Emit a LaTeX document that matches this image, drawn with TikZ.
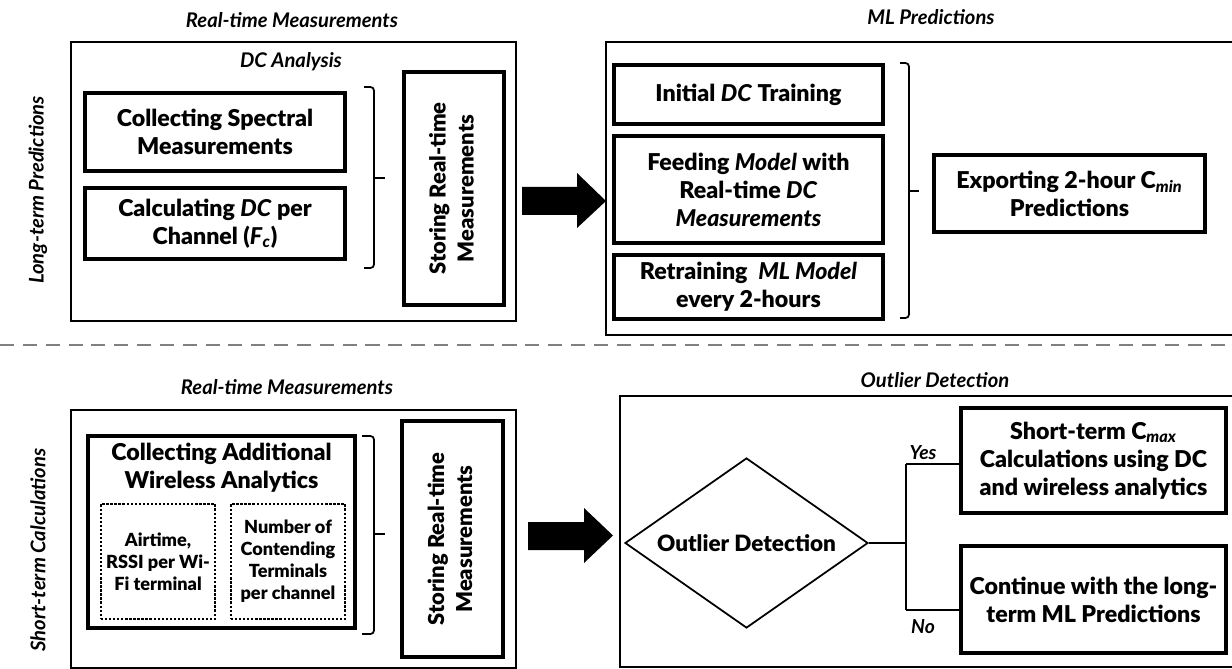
\documentclass[tikz,border=0pt]{standalone}
\usepackage{fontspec}
\setmainfont{Lato}
\newfontfamily\heavyfont{Lato Black}
\usetikzlibrary{shapes.geometric}
\usetikzlibrary{shadows}
\usetikzlibrary{positioning}
\tikzset{
    boxsize/.style 2 args = {minimum width=#1*0.02cm, minimum height=#2*0.02cm},
    outerbox/.style = {rectangle, draw=black, line width=1.1pt, inner sep=0pt, outer sep=0pt},
    stepbox/.style = {rectangle, draw=black, line width=1.8pt, fill=white, align=center, inner sep=0pt,
        font=\heavyfont\fontsize{13.2}{16}\selectfont,
        drop shadow={fill=black, opacity=0.35, shadow xshift=1.3pt, shadow yshift=-1.3pt}},
    storebox/.style = {stepbox, font=\heavyfont\fontsize{12.5}{16}\selectfont},
    subbox/.style = {rectangle, draw=black, line width=1.3pt, densely dotted, fill=white, align=center,
        inner sep=0pt, font=\heavyfont\fontsize{10.3}{12.5}\selectfont},
    decision/.style = {diamond, aspect=1.43, draw=black, line width=1pt, inner sep=0pt, align=center,
        font=\heavyfont\fontsize{12.8}{16}\selectfont},
    grouptitle/.style = {font=\bfseries\itshape\fontsize{11.5}{14}\selectfont},
    sidelabel/.style = {rotate=90, font=\bfseries\itshape\fontsize{11.5}{14}\selectfont},
    branchlabel/.style = {font=\bfseries\itshape\fontsize{11}{12}\selectfont},
    brace/.style = {line width=1pt, rounded corners=2pt},
    branch/.style = {line width=1.2pt},
    bigarrow/.style = {fill=black},
    divider/.style = {draw=gray, line width=1.2pt, dash pattern=on 8pt off 5pt}
}
\begin{document}
\begin{tikzpicture}[x=0.02cm, y=-0.02cm]
\useasboundingbox (0,0) rectangle (1232,669);
%
% long-term part
\node[grouptitle] (ltTitle) at (292,20) {Real-time Measurements};
\node[outerbox, boxsize={445}{279}] (ltFrame) at (293.5,181.5) {};
\node[grouptitle] (dcTitle) at (291,62) {DC Analysis};
\node[stepbox, boxsize={260}{78}] (spec) at (215,132) {Collecting Spectral\\Measurements};
\node[stepbox, boxsize={260}{71}] (calc) at (215,223.5) {Calculating \textit{DC} per\\Channel (\textit{F}\textsubscript{\itshape c})};
\draw[brace] (364,87) -- (374,87) -- (374,268) -- (364,268);
\draw[brace] (374,178) -- (385,178);
\node[storebox, boxsize={100}{233}] (storeA) at (454,188.5)
    {\rotatebox{90}{\begin{tabular}{@{}c@{}}Storing Real-time\\Measurements\end{tabular}}};
\node[sidelabel] (ltLabel) at (38,190) {Long-term Predictions};
\fill[bigarrow] (522,187) -- (577,187) -- (577,173) -- (606,201) -- (577,228) -- (577,215) -- (522,215) -- cycle;
%
\node[grouptitle] (mlTitle) at (931,17) {ML Predictions};
\draw[outerbox] (1236,42) -| (606,335) -- (1236,335);
\node[stepbox, boxsize={269}{59}] (init) at (748.5,94.5) {Initial \textit{DC} Training};
\node[stepbox, boxsize={269}{107}] (feed) at (748.5,189.5) {Feeding \textit{Model} with\\Real-time \textit{DC}\\\textit{Measurements}};
\node[stepbox, boxsize={269}{64}] (retrain) at (748.5,287) {Retraining \ \textit{ML Model}\\every 2-hours};
\draw[brace] (900,63) -- (909,63) -- (909,318) -- (900,318);
\draw[brace] (909,191) -- (919,191);
\node[stepbox, boxsize={271}{77}] (export) at (1069.5,193.5) {Exporting 2-hour C\textsubscript{\itshape min}\\Predictions};
%
\draw[divider] (0,345) -- (1232,345);
%
% short-term part
\node[grouptitle] (stTitle) at (287,387) {Real-time Measurements};
\node[outerbox, boxsize={445}{258}] (stFrame) at (293.5,539) {};
\node[stepbox, boxsize={267}{192}] (collect) at (221.5,532) {};
\node[font=\heavyfont\fontsize{13.2}{16}\selectfont, align=center] (collectText) at (221.5,468) {Collecting Additional\\Wireless Analytics};
\node[subbox, boxsize={114}{115}] (airtime) at (158,561.5) {Airtime,\\RSSI per Wi-\\Fi terminal};
\node[subbox, boxsize={114}{115}] (contend) at (288,561.5) {Number of\\Contending\\Terminals\\per channel};
\draw[brace] (362,436) -- (374,436) -- (374,634) -- (362,634);
\draw[brace] (374,534) -- (385,534);
\node[storebox, boxsize={101}{236}] (storeB) at (452.5,539)
    {\rotatebox{90}{\begin{tabular}{@{}c@{}}Storing Real-time\\Measurements\end{tabular}}};
\node[sidelabel] (stLabel) at (38,550) {Short-term Calculations};
\fill[bigarrow] (528,522) -- (584,522) -- (584,508) -- (613,535.5) -- (584,563) -- (584,550) -- (528,550) -- cycle;
%
\node[grouptitle] (odTitle) at (935,380) {Outlier Detection};
\draw[outerbox] (1236,396) -| (620,667) -- (1236,667);
\node[decision, boxsize={243}{170}] (od) at (746.5,543) {Outlier Detection};
\node[stepbox, boxsize={265}{105}] (yes) at (1093.5,460.5) {Short-term C\textsubscript{\itshape max}\\Calculations using DC\\and wireless analytics};
\node[stepbox, boxsize={265}{107}] (no) at (1093.5,599.5) {Continue with the long-\\term ML Predictions};
\coordinate (split) at (906,543);
\coordinate (splitYes) at (906,464);
\coordinate (splitNo) at (906,610);
\draw[branch] (od.east) -- (split);
\draw[branch] (splitYes) -- (splitNo);
\draw[branch] (splitYes) -- (splitYes -| yes.west);
\draw[branch] (splitNo) -- (splitNo -| no.west);
\node[branchlabel] (yesLabel) at (923,453) {Yes};
\node[branchlabel] (noLabel) at (923,627) {No};
\end{tikzpicture}
\end{document}
